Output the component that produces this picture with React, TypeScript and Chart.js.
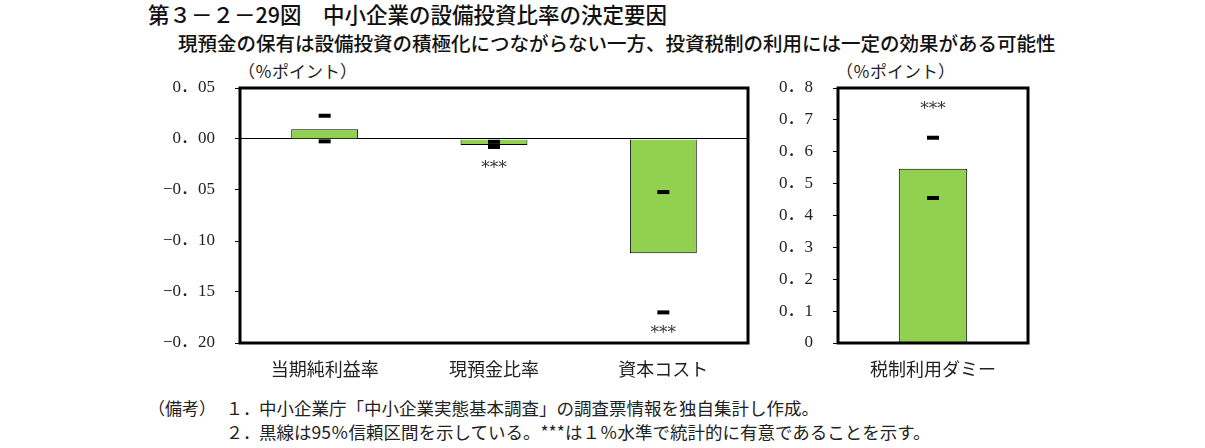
import { useEffect, useRef } from 'react';
import { Chart, ChartConfiguration, registerables } from 'chart.js';

Chart.register(...registerables);

// left panel
const leftCategories = ['当期純利益率', '現預金比率', '資本コスト'];
const leftValues = [0.0095, -0.0058, -0.112];
const leftUpper = [0.0228, -0.0028, -0.052];
const leftLower = [-0.0023, -0.0078, -0.170];
const leftStars = [null, -0.025, -0.1865];
const leftTickValues = [0.05, 0, -0.05, -0.1, -0.15, -0.2];
const leftTickLabels = ['0．05', '0．00', '−0．05', '−0．10', '−0．15', '−0．20'];

// right panel
const rightCategories = ['税制利用ダミー'];
const rightValues = [0.547];
const rightUpper = [0.644];
const rightLower = [0.455];
const rightStars = [0.746];
const rightTickValues = [0.8, 0.7, 0.6, 0.5, 0.4, 0.3, 0.2, 0.1, 0];
const rightTickLabels = ['0．8', '0．7', '0．6', '0．5', '0．4', '0．3', '0．2', '0．1', '0'];

const BAR_GREEN = '#92D050';
const JP = '"Noto Sans CJK JP", sans-serif';
const NUM = '"Liberation Serif", "Noto Sans CJK JP", serif';

const framePlugin = {
  id: 'frame',
  afterDatasetsDraw(chart: any) {
    const { ctx, chartArea: a } = chart;
    ctx.save();
    ctx.strokeStyle = '#000';
    ctx.lineWidth = 3;
    ctx.strokeRect(a.left, a.top, a.right - a.left, a.bottom - a.top);
    ctx.restore();
  }
};

const starsPlugin = {
  id: 'stars',
  afterDatasetsDraw(chart: any, _args: any, opts: any) {
    const { ctx } = chart;
    const x = chart.scales.x;
    const y = chart.scales.y;
    ctx.save();
    ctx.fillStyle = '#333';
    ctx.font = '17px "DejaVu Serif", serif';
    ctx.textAlign = 'center';
    ctx.textBaseline = 'middle';
    (opts.values || []).forEach((v: number | null, i: number) => {
      if (v === null) return;
      ctx.fillText('***', x.getPixelForValue(i), y.getPixelForValue(v) + 4);
    });
    ctx.restore();
  }
};

interface PanelProps {
  categories: string[];
  values: number[];
  upper: number[];
  lower: number[];
  stars: (number | null)[];
  tickValues: number[];
  tickLabels: string[];
  min: number;
  max: number;
  barPct: number;
  yWidth: number;
  padRight: number;
  width: number;
  height: number;
  left: number;
  top: number;
}

function Panel(p: PanelProps) {
  const canvasRef = useRef<HTMLCanvasElement>(null);
  const chartRef = useRef<Chart | null>(null);

  useEffect(() => {
    if (!canvasRef.current) return;
    if (chartRef.current) chartRef.current.destroy();
    const ctx = canvasRef.current.getContext('2d');
    if (!ctx) return;

    const ciSet = (data: number[]) => ({
      type: 'line' as const,
      data,
      showLine: false,
      pointStyle: 'line',
      pointRadius: 6,
      pointHoverRadius: 6,
      pointBorderWidth: 4,
      pointBorderColor: '#000',
      borderColor: '#000'
    });

    const config: ChartConfiguration = {
      type: 'bar',
      data: {
        labels: p.categories,
        datasets: [
          ciSet(p.upper) as any,
          ciSet(p.lower) as any,
          {
            type: 'bar',
            data: p.values,
            backgroundColor: BAR_GREEN,
            borderColor: '#000',
            borderWidth: 1,
            categoryPercentage: 1,
            barPercentage: p.barPct
          }
        ]
      },
      options: {
        responsive: false,
        animation: false,
        layout: { padding: { top: 7, right: p.padRight, left: 0, bottom: 0 } },
        plugins: {
          legend: { display: false },
          tooltip: { enabled: false },
          stars: { values: p.stars }
        } as any,
        scales: {
          x: {
            grid: { display: false },
            border: { display: false },
            ticks: {
              color: '#222',
              font: { family: JP, size: 18 },
              padding: 7
            },
            afterFit: (s: any) => {
              s.height = p.height - 7 - 258;
              s.paddingLeft = 0;
              s.paddingRight = 0;
            }
          },
          y: {
            min: p.min,
            max: p.max,
            afterBuildTicks: (s: any) => {
              s.ticks = p.tickValues.map(v => ({ value: v }));
            },
            afterFit: (s: any) => {
              s.width = p.yWidth;
              s.paddingTop = 0;
              s.paddingBottom = 0;
            },
            grid: {
              drawOnChartArea: true,
              drawTicks: true,
              tickLength: 5,
              tickColor: '#000',
              color: (c: any) => (c.tick && c.tick.value === 0 ? '#000' : 'rgba(0,0,0,0)'),
              lineWidth: 1
            },
            border: { display: false },
            ticks: {
              color: '#222',
              font: { family: NUM, size: 17 },
              padding: 20,
              callback: (_v: any, i: number) => p.tickLabels[i]
            }
          }
        }
      },
      plugins: [framePlugin, starsPlugin]
    };

    chartRef.current = new Chart(ctx, config);
    return () => {
      if (chartRef.current) chartRef.current.destroy();
    };
  }, []);

  return (
    <canvas
      ref={canvasRef}
      width={p.width}
      height={p.height}
      style={{ position: 'absolute', left: p.left, top: p.top, width: p.width, height: p.height }}
    />
  );
}

const abs = (left: number, top: number, size: number, extra: any = {}) => ({
  position: 'absolute' as const,
  left,
  top,
  fontSize: size,
  lineHeight: 1,
  whiteSpace: 'nowrap' as const,
  fontFamily: JP,
  color: '#222',
  ...extra
});

export default function App() {
  return (
    <div style={{ position: 'absolute', left: 0, top: 0, width: 1205, height: 448, background: '#fff', overflow: 'hidden' }}>
      <div style={abs(148, 3, 21.5, { fontWeight: 500, color: '#111' })}>第３－２－29図　中小企業の設備投資比率の決定要因</div>
      <div style={abs(178, 33, 19.5, { fontWeight: 500, color: '#111' })}>現預金の保有は設備投資の積極化につながらない一方、投資税制の利用には一定の効果がある可能性</div>
      <div style={abs(238, 62, 17)}>（％ポイント）</div>
      <div style={abs(836, 62, 17)}>（％ポイント）</div>

      <Panel
        categories={leftCategories}
        values={leftValues}
        upper={leftUpper}
        lower={leftLower}
        stars={leftStars}
        tickValues={leftTickValues}
        tickLabels={leftTickLabels}
        min={-0.2}
        max={0.05}
        barPct={0.395}
        yWidth={100}
        padRight={22}
        width={630}
        height={311}
        left={140}
        top={78}
      />
      <Panel
        categories={rightCategories}
        values={rightValues}
        upper={rightUpper}
        lower={rightLower}
        stars={rightStars}
        tickValues={rightTickValues}
        tickLabels={rightTickLabels}
        min={0}
        max={0.8}
        barPct={0.36}
        yWidth={78}
        padRight={32}
        width={300}
        height={311}
        left={760}
        top={78}
      />

      <div style={abs(148, 399, 17)}>（備考）</div>
      <div style={abs(226, 399, 17)}>１．</div>
      <div style={abs(259, 399, 17.5)}>中小企業庁「中小企業実態基本調査」の調査票情報を独自集計し作成。</div>
      <div style={abs(226, 423, 17)}>２．</div>
      <div style={abs(259, 423, 17.5)}>黒線は95％信頼区間を示している。***は１％水準で統計的に有意であることを示す。</div>
    </div>
  );
}
